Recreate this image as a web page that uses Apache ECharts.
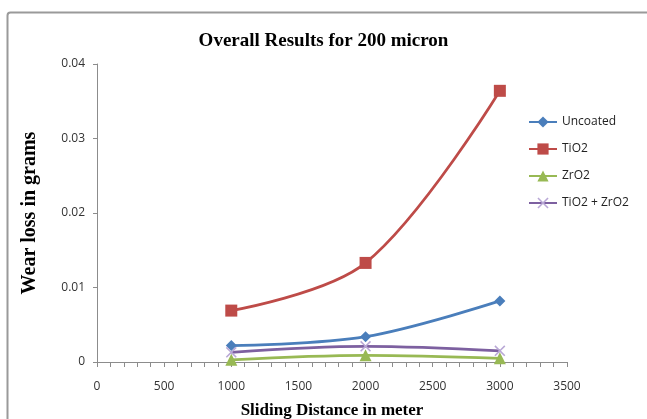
<!DOCTYPE html>
<html>
<head>
<meta charset="utf-8">
<script src="https://cdn.jsdelivr.net/npm/echarts@6/dist/echarts.min.js"></script>
<style>
html,body{margin:0;padding:0;background:#fff;}
#chart{width:647px;height:419px;}
</style>
</head>
<body>
<div id="chart"></div>
<script>
const distances = [1000, 2000, 3000];
const uncoated = [0.0022, 0.0034, 0.0082];
const tio2 = [0.0069, 0.0133, 0.0364];
const zro2 = [0.0003, 0.0009, 0.0005];
const tio2zro2 = [0.0013, 0.0021, 0.0015];
const seriesNames = ['Uncoated', 'TiO2', 'ZrO2', 'TiO2 + ZrO2'];

const pair = arr => distances.map((d, i) => [d, arr[i]]);
const crossPath = 'path://M0,1 L1,0 L5,4 L9,0 L10,1 L6,5 L10,9 L9,10 L5,6 L1,10 L0,9 L4,5 Z';
const tickFont = "'Liberation Sans Narrow','Open Sans',Arial,sans-serif";
const serif = "'Liberation Serif','Times New Roman',serif";

const chart = echarts.init(document.getElementById('chart'));
chart.setOption({
  animation: false,
  backgroundColor: '#fff',
  graphic: [{
    type: 'rect', left: 5, top: 10,
    shape: { width: 700, height: 460, r: 3 },
    style: { fill: 'none', stroke: '#9a9a9a', lineWidth: 2 }
  }],
  title: {
    text: 'Overall Results for 200 micron',
    left: 'center', top: 27,
    textStyle: { fontFamily: serif, fontWeight: 'bold', fontSize: 19, color: '#000' }
  },
  legend: {
    orient: 'vertical', left: 523, top: 111,
    itemGap: 15, itemWidth: 28, itemHeight: 14,
    textStyle: { fontFamily: tickFont, fontSize: 12, color: '#222' },
    data: seriesNames
  },
  grid: { left: 97, right: 80, top: 64, bottom: 57, outerBoundsMode: 'none', containLabel: false },
  xAxis: {
    type: 'value', min: 0, max: 3500, interval: 500,
    name: 'Sliding Distance in meter', nameLocation: 'middle', nameGap: 40,
    nameTextStyle: { fontFamily: serif, fontWeight: 'bold', fontSize: 17, color: '#000' },
    axisLine: { lineStyle: { color: '#8c8c8c', width: 1 } },
    axisTick: { show: true, length: 5, lineStyle: { color: '#8c8c8c' } },
    minorTick: { show: true, splitNumber: 5, length: 5, lineStyle: { color: '#8c8c8c' } },
    splitLine: { show: false },
    axisLabel: { fontFamily: tickFont, fontSize: 12, color: '#333', margin: 19,
      formatter: v => String(v) }
  },
  yAxis: {
    type: 'value', min: 0, max: 0.04, interval: 0.01,
    name: 'Wear loss in grams', nameLocation: 'middle', nameGap: 57,
    nameTextStyle: { fontFamily: serif, fontWeight: 'bold', fontSize: 20, color: '#000' },
    axisLine: { show: true, lineStyle: { color: '#8c8c8c', width: 1 } },
    axisTick: { show: true, length: 4, lineStyle: { color: '#8c8c8c' } },
    splitLine: { show: false },
    axisLabel: { fontFamily: tickFont, fontSize: 12, color: '#333', margin: 12,
      formatter: v => String(+v.toFixed(2)) }
  },
  series: [
    {
      name: 'Uncoated', type: 'line', smooth: 0.35, data: pair(uncoated),
      symbol: 'diamond', symbolSize: 11,
      lineStyle: { color: '#4A7EBB', width: 2.75 },
      itemStyle: { color: '#4A7EBB' }
    },
    {
      name: 'TiO2', type: 'line', smooth: 0.35, data: pair(tio2),
      symbol: 'rect', symbolSize: 12,
      lineStyle: { color: '#BE4B48', width: 2.75 },
      itemStyle: { color: '#BE4B48' }
    },
    {
      name: 'ZrO2', type: 'line', smooth: 0.35, data: pair(zro2),
      symbol: 'triangle', symbolSize: 12,
      lineStyle: { color: '#98B954', width: 2.75 },
      itemStyle: { color: '#98B954' }
    },
    {
      name: 'TiO2 + ZrO2', type: 'line', smooth: 0.35, data: pair(tio2zro2),
      symbol: crossPath, symbolSize: 11,
      lineStyle: { color: '#7D60A0', width: 2.75 },
      itemStyle: { color: '#B9A8D6' }
    }
  ]
});
</script>
</body>
</html>
